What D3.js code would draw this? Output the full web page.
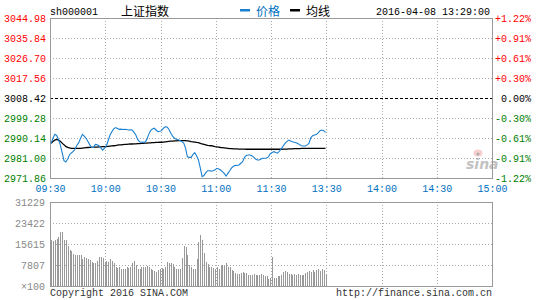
<!DOCTYPE html>
<html>
<head>
<meta charset="utf-8">
<script src="https://cdn.jsdelivr.net/npm/d3@7"></script>
<style>
    body { margin: 0; background: #fff; }
    svg { display: block; font-family: "Liberation Mono", "DejaVu Sans Mono", monospace; font-size: 10px; }
    .cjk { font-family: "Noto Sans CJK SC", sans-serif; font-size: 12px; }
</style>
</head>
<body>
<svg id="chart"></svg>
<script>
const width = 545;
const height = 300;

// header
const code = "sh000001";
const name = "上证指数";
const stamp = "2016-04-08 13:29:00";

// axis labels
const timeLabels = ["09:30", "10:00", "10:30", "11:00", "11:30", "13:30", "14:00", "14:30", "15:00"];
const priceTicks = [3044.98, 3035.84, 3026.70, 3017.56, 3008.42, 2999.28, 2990.14, 2981.00, 2971.86];
const pctLabels = ["+1.22%", "+0.91%", "+0.61%", "+0.30%", "0.00%", "-0.30%", "-0.61%", "-0.91%", "-1.22%"];
const volTicks = [31229, 23422, 15615, 7807, 0];
const prevClose = 3008.42;

// one value per trading minute, 09:30 .. 11:29 then 13:00 .. 13:29
const price = [
    2987.7, 2990.0, 2991.8, 2991.3, 2989.5, 2987.0, 2983.5, 2979.8, 2979.2, 2980.5,
    2982.5, 2983.3, 2984.0, 2985.0, 2986.8, 2988.0, 2990.0, 2991.8, 2991.0, 2990.0,
    2988.5, 2987.0, 2985.8, 2985.8, 2987.2, 2987.0, 2986.6, 2985.6, 2984.6, 2985.5,
    2986.5, 2989.0, 2991.5, 2993.0, 2994.3, 2994.9, 2994.5, 2994.1, 2994.2, 2994.0,
    2994.1, 2994.0, 2993.8, 2993.9, 2993.8, 2992.8, 2991.5, 2989.5, 2988.4, 2988.2,
    2988.3, 2988.2, 2989.5, 2991.8, 2993.5, 2994.3, 2994.6, 2993.8, 2993.0, 2993.2,
    2993.5, 2994.6, 2995.3, 2995.2, 2994.0, 2992.3, 2991.0, 2990.0, 2989.6, 2989.3,
    2989.0, 2988.5, 2987.8, 2985.5, 2981.5, 2981.3, 2981.3, 2982.5, 2983.4, 2982.0,
    2980.1, 2976.5, 2972.5, 2973.0, 2974.3, 2975.2, 2975.2, 2975.0, 2975.2, 2975.6,
    2976.3, 2976.0, 2975.5, 2974.8, 2974.0, 2972.8, 2974.0, 2975.2, 2976.5, 2977.2,
    2977.7, 2977.6, 2977.8, 2978.6, 2979.3, 2981.3, 2982.2, 2982.4, 2982.4, 2982.0,
    2981.4, 2980.5, 2980.1, 2980.1, 2980.5, 2980.9, 2980.9, 2981.0, 2981.5, 2983.0,
    2983.5, 2983.9, 2983.5, 2983.2, 2984.2, 2985.2, 2986.5, 2987.7, 2988.5, 2989.2,
    2988.8, 2988.4, 2988.2, 2988.0, 2987.6, 2987.0, 2986.6, 2986.5, 2986.5, 2987.0,
    2987.7, 2990.2, 2991.2, 2991.5, 2991.7, 2992.5, 2993.5, 2993.8, 2993.5, 2992.7
];
const avgPrice = [
    2987.7, 2988.5, 2989.2, 2989.5, 2989.2, 2988.6, 2987.8, 2987.0, 2986.3, 2985.9,
    2985.6, 2985.4, 2985.4, 2985.4, 2985.4, 2985.4, 2985.4, 2985.5, 2985.6, 2985.7,
    2985.8, 2985.9, 2985.9, 2986.0, 2986.0, 2986.0, 2986.1, 2986.1, 2986.2, 2986.2,
    2986.2, 2986.3, 2986.4, 2986.5, 2986.6, 2986.7, 2986.9, 2987.0, 2987.0, 2987.1,
    2987.2, 2987.2, 2987.3, 2987.4, 2987.4, 2987.5, 2987.5, 2987.6, 2987.6, 2987.7,
    2987.7, 2987.8, 2987.8, 2987.9, 2987.9, 2988.0, 2988.0, 2988.1, 2988.1, 2988.2,
    2988.2, 2988.3, 2988.4, 2988.5, 2988.6, 2988.7, 2988.7, 2988.8, 2988.8, 2988.9,
    2988.9, 2988.9, 2988.9, 2988.9, 2988.8, 2988.7, 2988.5, 2988.4, 2988.3, 2988.1,
    2988.0, 2987.7, 2987.4, 2987.2, 2987.0, 2986.8, 2986.7, 2986.6, 2986.4, 2986.2,
    2986.1, 2986.0, 2985.8, 2985.7, 2985.6, 2985.5, 2985.4, 2985.3, 2985.3, 2985.2,
    2985.2, 2985.2, 2985.1, 2985.1, 2985.1, 2985.1, 2985.0, 2985.0, 2985.0, 2985.0,
    2985.0, 2985.0, 2985.0, 2985.0, 2985.0, 2985.0, 2985.0, 2985.0, 2985.0, 2985.0,
    2985.0, 2985.0, 2985.0, 2985.0, 2985.0, 2985.0, 2985.1, 2985.1, 2985.1, 2985.2,
    2985.2, 2985.2, 2985.3, 2985.3, 2985.3, 2985.3, 2985.4, 2985.4, 2985.4, 2985.4,
    2985.4, 2985.4, 2985.4, 2985.4, 2985.4, 2985.4, 2985.4, 2985.4, 2985.4, 2985.4
];
// volume in units of 100
const volume = [
    17100, 16900, 17100, 17600, 18300, 19900, 20200, 17100, 17100, 14900,
    13400, 13000, 11900, 11700, 11500, 11500, 11500, 10200, 10900, 10500,
    10200, 9600, 9000, 8600, 8400, 9200, 10600, 10600, 10500, 9000,
    9400, 9000, 9900, 9400, 8600, 7100, 6700, 6900, 6500, 6200,
    6500, 6900, 6700, 7100, 8600, 9200, 7700, 6200, 6200, 6900,
    6900, 7100, 7400, 6900, 6200, 5900, 5600, 5200, 5900, 6200,
    6700, 6500, 7100, 9000, 8400, 8400, 8100, 7100, 6500, 6200,
    6500, 10500, 14900, 14400, 11500, 7700, 6900, 6500, 6500, 10200,
    16500, 18900, 17100, 12400, 9000, 8100, 6900, 6900, 6700, 6500,
    7100, 6200, 7400, 7700, 7400, 8400, 6900, 6900, 5900, 5500,
    5000, 4400, 4400, 5000, 5200, 5000, 5000, 4200, 4000, 4200,
    4400, 4000, 4000, 4000, 4600, 4000, 3800, 3800, 2700, 3100,
    10900, 3100, 3100, 3600, 3600, 4200, 5200, 5500, 5200, 4600,
    4400, 4000, 4400, 4000, 4400, 4000, 4000, 4000, 4900, 5200,
    5500, 5200, 5900, 5200, 5900, 6200, 5500, 6500, 5900, 4600
];

const left = 50, right = 492;
const priceTop = 18, priceBottom = 178;
const volTop = 202, volBottom = 286;
const red = "#ff0000", green = "#008000", blue = "#1a80d0", gridGrey = "#aaa", frameGrey = "#999";

const svg = d3.select("#chart").attr("width", width).attr("height", height);

const x = d3.scaleLinear().domain([0, 240]).range([left, right]);
const y = d3.scaleLinear().domain([2971.86, 3044.98]).range([priceBottom, priceTop]);
const yVol = d3.scaleLinear().domain([0, 31229]).range([volBottom, volTop]);
const crisp = v => Math.round(v) + 0.5;
const minuteX = i => x(i + 0.6);

const gridX = d3.range(30, 240, 30);

// price grid
svg.append("g").selectAll("line")
    .data(priceTicks.slice(1, -1))
    .enter().append("line")
    .attr("x1", left).attr("x2", right)
    .attr("y1", d => crisp(y(d))).attr("y2", d => crisp(y(d)))
    .attr("stroke", d => d === prevClose ? "#000" : gridGrey)
    .attr("stroke-dasharray", d => d === prevClose ? "3,2" : "1,2");

svg.append("g").selectAll("line")
    .data(gridX)
    .enter().append("line")
    .attr("x1", d => crisp(x(d))).attr("x2", d => crisp(x(d)))
    .attr("y1", priceTop).attr("y2", priceBottom)
    .attr("stroke", gridGrey)
    .attr("stroke-dasharray", "1,2");

// volume grid
svg.append("g").selectAll("line")
    .data(volTicks.slice(1, -1))
    .enter().append("line")
    .attr("x1", left).attr("x2", right)
    .attr("y1", d => crisp(yVol(d))).attr("y2", d => crisp(yVol(d)))
    .attr("stroke", gridGrey)
    .attr("stroke-dasharray", "1,2");

svg.append("g").selectAll("line")
    .data(gridX)
    .enter().append("line")
    .attr("x1", d => crisp(x(d))).attr("x2", d => crisp(x(d)))
    .attr("y1", volTop).attr("y2", volBottom)
    .attr("stroke", gridGrey)
    .attr("stroke-dasharray", "1,2");

// sina watermark
const logo = svg.append("g").attr("opacity", 0.6);
logo.append("ellipse").attr("cx", 478).attr("cy", 153).attr("rx", 4.5).attr("ry", 3.5)
    .attr("fill", "#f4b0b0");
logo.append("circle").attr("cx", 478).attr("cy", 154).attr("r", 1.6).attr("fill", "#777");
logo.append("text").attr("x", 466).attr("y", 169)
    .style("font-family", "'DejaVu Sans', sans-serif").style("font-size", "14px")
    .style("font-weight", "bold").style("font-style", "italic")
    .attr("fill", "#999").text("sina");

// volume bars
svg.append("g").selectAll("rect")
    .data(volume)
    .enter().append("rect")
    .attr("x", (d, i) => Math.round(minuteX(i)))
    .attr("width", 1)
    .attr("y", d => Math.round(yVol(d)))
    .attr("height", d => volBottom - Math.round(yVol(d)))
    .attr("fill", frameGrey)
    .attr("shape-rendering", "crispEdges");

// frames
[[priceTop, priceBottom], [volTop, volBottom]].forEach(([t, b]) => {
    svg.append("rect")
        .attr("x", left + 0.5).attr("y", t + 0.5)
        .attr("width", right - left).attr("height", b - t)
        .attr("fill", "none").attr("stroke", frameGrey);
});

// lines
const line = d3.line().x((d, i) => minuteX(i)).y(d => y(d));
svg.append("path").datum(avgPrice).attr("d", line)
    .attr("fill", "none").attr("stroke", "#000").attr("stroke-width", 1.3);
svg.append("path").datum(price).attr("d", line)
    .attr("fill", "none").attr("stroke", blue).attr("stroke-width", 1.1);

// axes - drop d3's default sans-serif so the mono font from css applies
const colorFor = v => v > prevClose ? red : (v < prevClose ? green : "#000");
const plainAxis = (g, color) => {
    g.attr("font-family", null).attr("font-size", null);
    g.select(".domain").remove();
    g.selectAll("text").attr("fill", color);
};

svg.append("g")
    .attr("transform", "translate(46,0)")
    .call(d3.axisLeft(y).tickValues(priceTicks).tickSize(0).tickPadding(0).tickFormat(d3.format(".2f")))
    .call(plainAxis, colorFor);

svg.append("g")
    .attr("transform", "translate(531,0)")
    .call(d3.axisLeft(y).tickValues(priceTicks).tickSize(0).tickPadding(0).tickFormat((d, i) => pctLabels[i]))
    .call(plainAxis, colorFor);

svg.append("g")
    .attr("transform", `translate(0,${priceBottom})`)
    .call(d3.axisBottom(x).tickValues(d3.range(0, 241, 30)).tickSize(0).tickPadding(7).tickFormat((d, i) => timeLabels[i]))
    .call(plainAxis, "#0070c0");

svg.append("g")
    .attr("transform", "translate(45,0)")
    .call(d3.axisLeft(yVol).tickValues(volTicks).tickSize(0).tickPadding(0).tickFormat(d => d === 0 ? "×100" : d))
    .call(plainAxis, "#888");

// header
svg.append("text").attr("x", 50).attr("y", 15).attr("fill", "#000").text(code);
svg.append("text").attr("class", "cjk").attr("x", 121).attr("y", 16).attr("fill", "#000").text(name);

svg.append("rect").attr("x", 240).attr("y", 9).attr("width", 10).attr("height", 2.5).attr("fill", blue);
svg.append("text").attr("class", "cjk").attr("x", 256).attr("y", 16).attr("fill", "#0070c0").text("价格");
svg.append("rect").attr("x", 290).attr("y", 9).attr("width", 10).attr("height", 2.5).attr("fill", "#000");
svg.append("text").attr("class", "cjk").attr("x", 306).attr("y", 16).attr("fill", "#000").text("均线");

svg.append("text").attr("x", 490).attr("y", 15).attr("text-anchor", "end").attr("fill", "#000").text(stamp);

// footer
svg.append("text").attr("x", 50).attr("y", 296).attr("fill", "#333").text("Copyright 2016 SINA.COM");
svg.append("text").attr("x", 492).attr("y", 296).attr("text-anchor", "end").attr("fill", "#333").text("http://finance.sina.com.cn");
</script>
</body>
</html>
